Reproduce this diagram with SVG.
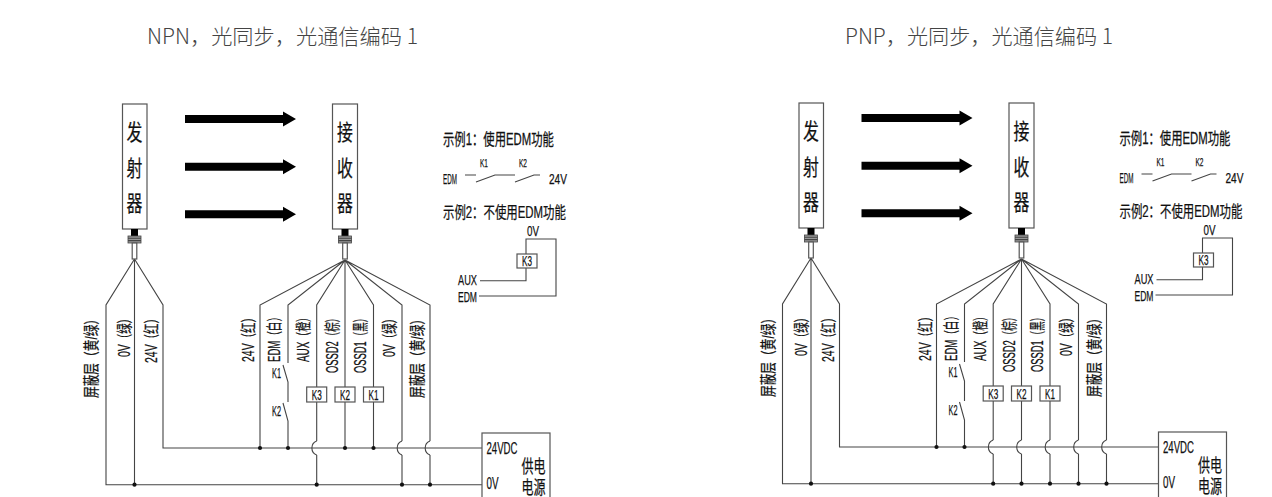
<svg xmlns="http://www.w3.org/2000/svg" width="1272" height="497" viewBox="0 0 1272 497">
<style>
text{font-family:"Liberation Sans","Noto Sans CJK SC",sans-serif;fill:#111;stroke:#111;stroke-width:.25}
.title{font-family:"Noto Sans CJK SC","Noto Sans",sans-serif;fill:#444;stroke:none;font-size:21px;font-weight:300}
.big{font-family:"Noto Sans CJK SC",sans-serif;font-size:22px;text-anchor:middle}
.v{font-size:16px}
.t{font-size:16px}
.m{font-size:15px}
.p{font-size:17px}
.q{font-size:18px}
.sw{font-size:15px}
.tiny{font-size:11px}
.s{font-size:14px}
.w{fill:none;stroke:#444;stroke-width:1.1}
.b{fill:#fff;stroke:#555;stroke-width:1.2}
.d{fill:#111}
.a{fill:#000}
.h{fill:#999;stroke:#444;stroke-width:.8}
</style>
<defs>
<g id="arrow"><path class="a" d="M185 -4H283V-7.500L296 0L283 7.500V4H185Z"/></g>
<g id="plug"><rect class="a" x="-3.500" y="229" width="7" height="7"/><rect class="h" x="-6.500" y="236" width="13" height="7"/><path class="w" d="M-6.500 238.300H6.500M-6.500 240.600H6.500"/><rect class="b" x="-2.300" y="243" width="4.600" height="16"/></g>
<path id="jump" class="w" d="M0 -7A7.500 7.500 0 0 0 0 7"/>
<circle id="dot" class="d" r="2.100"/>
</defs>

<g id="panel-npn">
<text class="title" x="147" y="44" textLength="271" lengthAdjust="spacingAndGlyphs">NPN，光同步，光通信编码 1</text>
<g id="npn-connectors">
<path class="w" d="M134.500 259L106 305V484.700H482M134.500 259V484.700M134.500 259L163 305V448H482"/>
<path class="w" d="M345 260L260 305V448M345 260L288 305V363M283 365L288 382V402M283 403L288 421V448M345 260L316.700 305V441M316.700 455V484.700M345 260V448M345 260L373.500 305V448M345 260L402 305V441M402 455V484.700M345 260L430 305V441M430 455V484.700"/>
<use href="#jump" x="316.700" y="448"/><use href="#jump" x="402" y="448"/><use href="#jump" x="430" y="448"/>
<use href="#dot" x="260" y="448"/><use href="#dot" x="288" y="448"/><use href="#dot" x="345" y="448"/><use href="#dot" x="373.500" y="448"/>
<use href="#dot" x="134.500" y="484.700"/><use href="#dot" x="316.700" y="484.700"/><use href="#dot" x="402" y="484.700"/><use href="#dot" x="430" y="484.700"/>
<use href="#arrow" y="119"/><use href="#arrow" y="166.700"/><use href="#arrow" y="214.300"/>
</g>
<g id="npn-emitter"><rect class="b" x="122.500" y="104" width="24.500" height="125"/><use href="#plug" x="134.500"/>
<text class="big" transform="translate(134.500 140) scale(.72 1)">发</text><text class="big" transform="translate(134.500 176) scale(.72 1)">射</text><text class="big" transform="translate(134.500 211) scale(.72 1)">器</text></g>
<g id="npn-receiver"><rect class="b" x="332.500" y="104" width="25" height="125"/><use href="#plug" x="345"/>
<text class="big" transform="translate(345 140) scale(.72 1)">接</text><text class="big" transform="translate(345 176) scale(.72 1)">收</text><text class="big" transform="translate(345 211) scale(.72 1)">器</text></g>
<g id="npn-labels">
<text class="v" transform="translate(97 398) rotate(-90)" textLength="85" lengthAdjust="spacingAndGlyphs">屏蔽层（黄/绿）</text>
<text class="v" transform="translate(130 357) rotate(-90)" textLength="44" lengthAdjust="spacingAndGlyphs">0V（绿）</text>
<text class="v" transform="translate(157 363) rotate(-90)" textLength="50" lengthAdjust="spacingAndGlyphs">24V（红）</text>
<text class="v" transform="translate(254 362) rotate(-90)" textLength="50" lengthAdjust="spacingAndGlyphs">24V（红）</text>
<text class="v" transform="translate(280 362) rotate(-90)" textLength="50" lengthAdjust="spacingAndGlyphs">EDM（白）</text>
<text class="v" transform="translate(309 362) rotate(-90)" textLength="50" lengthAdjust="spacingAndGlyphs">AUX（橙）</text>
<text class="v" transform="translate(338 373) rotate(-90)" textLength="60" lengthAdjust="spacingAndGlyphs">OSSD2（棕）</text>
<text class="v" transform="translate(366 373) rotate(-90)" textLength="60" lengthAdjust="spacingAndGlyphs">OSSD1（黑）</text>
<text class="v" transform="translate(395 357) rotate(-90)" textLength="44" lengthAdjust="spacingAndGlyphs">0V（绿）</text>
<text class="v" transform="translate(423 398) rotate(-90)" textLength="85" lengthAdjust="spacingAndGlyphs">屏蔽层（黄/绿）</text>
<text class="sw" x="272" y="378" textLength="9" lengthAdjust="spacingAndGlyphs">K1</text>
<text class="sw" x="272" y="416" textLength="9" lengthAdjust="spacingAndGlyphs">K2</text>
</g>
<g id="npn-k3"><rect class="b" x="306.700" y="387" width="20" height="15"/><text class="s" x="311.700" y="400" textLength="10" lengthAdjust="spacingAndGlyphs">K3</text></g>
<g id="npn-k2"><rect class="b" x="335" y="387" width="20" height="15"/><text class="s" x="340" y="400" textLength="10" lengthAdjust="spacingAndGlyphs">K2</text></g>
<g id="npn-k1"><rect class="b" x="363.500" y="387" width="20" height="15"/><text class="s" x="368.500" y="400" textLength="10" lengthAdjust="spacingAndGlyphs">K1</text></g>
<g id="npn-power"><rect class="b" x="482" y="433" width="68" height="66"/>
<text class="p" x="486.500" y="454" textLength="31" lengthAdjust="spacingAndGlyphs">24VDC</text><text class="p" x="486.500" y="489" textLength="12" lengthAdjust="spacingAndGlyphs">0V</text>
<text class="q" x="521.500" y="473" textLength="24" lengthAdjust="spacingAndGlyphs">供电</text><text class="q" x="521.500" y="494" textLength="24" lengthAdjust="spacingAndGlyphs">电源</text></g>
<g id="npn-examples">
<text class="t" transform="translate(443 145) scale(.71 1)">示例1：使用EDM功能</text>
<text class="tiny" x="480" y="167" textLength="8" lengthAdjust="spacingAndGlyphs">K1</text><text class="tiny" x="519" y="167" textLength="8" lengthAdjust="spacingAndGlyphs">K2</text>
<text class="m" x="443" y="184" textLength="14" lengthAdjust="spacingAndGlyphs">EDM</text><text class="m" x="549" y="184" textLength="18" lengthAdjust="spacingAndGlyphs">24V</text>
<path class="w" d="M465 175H476M476 182L495 175H515M515 182L534 175H540"/>
<text class="t" transform="translate(443 218) scale(.713 1)">示例2：不使用EDM功能</text>
<text class="m" x="527" y="236" textLength="12" lengthAdjust="spacingAndGlyphs">0V</text>
<path class="w" d="M526 254V239H556V296H479M526 268V280.700H480"/>
<rect class="b" x="517" y="254" width="20" height="14"/><text class="s" x="522" y="266" textLength="10" lengthAdjust="spacingAndGlyphs">K3</text>
<text class="m" x="458" y="285" textLength="19" lengthAdjust="spacingAndGlyphs">AUX</text><text class="m" x="458" y="301.500" textLength="19" lengthAdjust="spacingAndGlyphs">EDM</text>
</g>
</g>

<g id="panel-pnp" transform="translate(676.500 -1)">
<text class="title" x="168.500" y="45" textLength="268" lengthAdjust="spacingAndGlyphs">PNP，光同步，光通信编码 1</text>
<g id="pnp-connectors">
<path class="w" d="M134.500 259L106 305V484.700H482M134.500 259V484.700M134.500 259L163 305V448H482"/>
<path class="w" d="M345 260L260 305V448M345 260L288 305V363M283 365L288 382V402M283 403L288 421V448M345 260L316.700 305V441M316.700 455V484.700M345 260V441M345 455V484.700M345 260L373.500 305V441M373.500 455V484.700M345 260L402 305V441M402 455V484.700M345 260L430 305V441M430 455V484.700"/>
<use href="#jump" x="316.700" y="448"/><use href="#jump" x="345" y="448"/><use href="#jump" x="373.500" y="448"/><use href="#jump" x="402" y="448"/><use href="#jump" x="430" y="448"/>
<use href="#dot" x="260" y="448"/><use href="#dot" x="288" y="448"/>
<use href="#dot" x="134.500" y="484.700"/><use href="#dot" x="316.700" y="484.700"/><use href="#dot" x="345" y="484.700"/><use href="#dot" x="373.500" y="484.700"/><use href="#dot" x="402" y="484.700"/><use href="#dot" x="430" y="484.700"/>
<use href="#arrow" y="119"/><use href="#arrow" y="166.700"/><use href="#arrow" y="214.300"/>
</g>
<g id="pnp-emitter"><rect class="b" x="122.500" y="104" width="24.500" height="125"/><use href="#plug" x="134.500"/>
<text class="big" transform="translate(134.500 140) scale(.72 1)">发</text><text class="big" transform="translate(134.500 176) scale(.72 1)">射</text><text class="big" transform="translate(134.500 211) scale(.72 1)">器</text></g>
<g id="pnp-receiver"><rect class="b" x="332.500" y="104" width="25" height="125"/><use href="#plug" x="345"/>
<text class="big" transform="translate(345 140) scale(.72 1)">接</text><text class="big" transform="translate(345 176) scale(.72 1)">收</text><text class="big" transform="translate(345 211) scale(.72 1)">器</text></g>
<g id="pnp-labels">
<text class="v" transform="translate(97 398) rotate(-90)" textLength="85" lengthAdjust="spacingAndGlyphs">屏蔽层（黄/绿）</text>
<text class="v" transform="translate(130 357) rotate(-90)" textLength="44" lengthAdjust="spacingAndGlyphs">0V（绿）</text>
<text class="v" transform="translate(157 363) rotate(-90)" textLength="50" lengthAdjust="spacingAndGlyphs">24V（红）</text>
<text class="v" transform="translate(254 362) rotate(-90)" textLength="50" lengthAdjust="spacingAndGlyphs">24V（红）</text>
<text class="v" transform="translate(280 362) rotate(-90)" textLength="50" lengthAdjust="spacingAndGlyphs">EDM（白）</text>
<text class="v" transform="translate(309 362) rotate(-90)" textLength="50" lengthAdjust="spacingAndGlyphs">AUX（橙）</text>
<text class="v" transform="translate(338 373) rotate(-90)" textLength="60" lengthAdjust="spacingAndGlyphs">OSSD2（棕）</text>
<text class="v" transform="translate(366 373) rotate(-90)" textLength="60" lengthAdjust="spacingAndGlyphs">OSSD1（黑）</text>
<text class="v" transform="translate(395 357) rotate(-90)" textLength="44" lengthAdjust="spacingAndGlyphs">0V（绿）</text>
<text class="v" transform="translate(423 398) rotate(-90)" textLength="85" lengthAdjust="spacingAndGlyphs">屏蔽层（黄/绿）</text>
<text class="sw" x="272" y="378" textLength="9" lengthAdjust="spacingAndGlyphs">K1</text>
<text class="sw" x="272" y="416" textLength="9" lengthAdjust="spacingAndGlyphs">K2</text>
</g>
<g id="pnp-k3"><rect class="b" x="306.700" y="387" width="20" height="15"/><text class="s" x="311.700" y="400" textLength="10" lengthAdjust="spacingAndGlyphs">K3</text></g>
<g id="pnp-k2"><rect class="b" x="335" y="387" width="20" height="15"/><text class="s" x="340" y="400" textLength="10" lengthAdjust="spacingAndGlyphs">K2</text></g>
<g id="pnp-k1"><rect class="b" x="363.500" y="387" width="20" height="15"/><text class="s" x="368.500" y="400" textLength="10" lengthAdjust="spacingAndGlyphs">K1</text></g>
<g id="pnp-power"><rect class="b" x="482" y="433" width="68" height="67"/>
<text class="p" x="486.500" y="454" textLength="31" lengthAdjust="spacingAndGlyphs">24VDC</text><text class="p" x="486.500" y="489" textLength="12" lengthAdjust="spacingAndGlyphs">0V</text>
<text class="q" x="521.500" y="473" textLength="24" lengthAdjust="spacingAndGlyphs">供电</text><text class="q" x="521.500" y="494" textLength="24" lengthAdjust="spacingAndGlyphs">电源</text></g>
<g id="pnp-examples">
<text class="t" transform="translate(443 145) scale(.71 1)">示例1：使用EDM功能</text>
<text class="tiny" x="480" y="167" textLength="8" lengthAdjust="spacingAndGlyphs">K1</text><text class="tiny" x="519" y="167" textLength="8" lengthAdjust="spacingAndGlyphs">K2</text>
<text class="m" x="443" y="184" textLength="14" lengthAdjust="spacingAndGlyphs">EDM</text><text class="m" x="549" y="184" textLength="18" lengthAdjust="spacingAndGlyphs">24V</text>
<path class="w" d="M465 175H476M476 182L495 175H515M515 182L534 175H540"/>
<text class="t" transform="translate(443 218) scale(.713 1)">示例2：不使用EDM功能</text>
<text class="m" x="527" y="236" textLength="12" lengthAdjust="spacingAndGlyphs">0V</text>
<path class="w" d="M526 254V239H556V296H479M526 268V280.700H480"/>
<rect class="b" x="517" y="254" width="20" height="14"/><text class="s" x="522" y="266" textLength="10" lengthAdjust="spacingAndGlyphs">K3</text>
<text class="m" x="458" y="285" textLength="19" lengthAdjust="spacingAndGlyphs">AUX</text><text class="m" x="458" y="301.500" textLength="19" lengthAdjust="spacingAndGlyphs">EDM</text>
</g>
</g>
</svg>
